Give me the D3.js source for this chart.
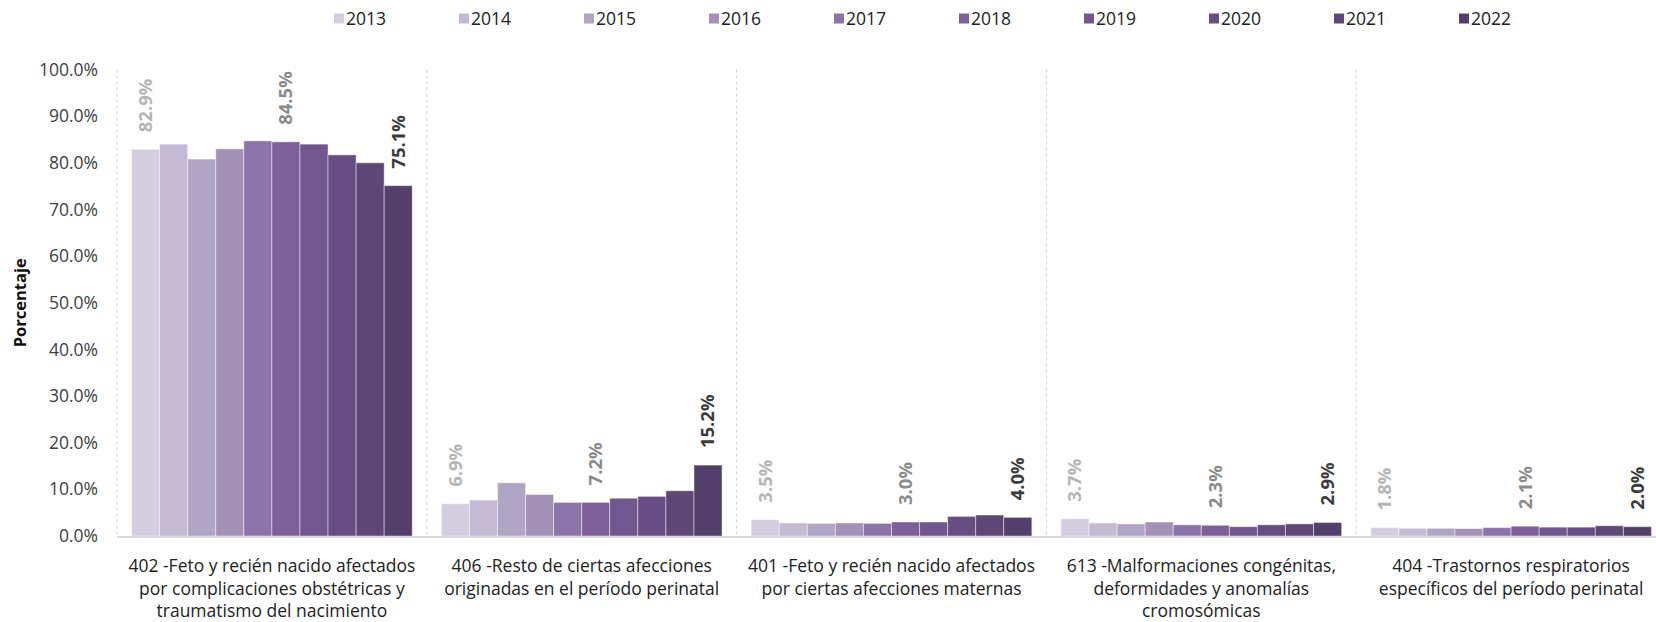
<!DOCTYPE html>
<html><head><meta charset="utf-8">
<script src="https://cdn.jsdelivr.net/npm/d3@7"></script>
<style>
html,body{margin:0;padding:0;background:#fff;overflow:hidden}
svg{display:block;font-family:"Open Sans","Noto Sans",sans-serif}
</style></head>
<body><svg id="chart" width="1656" height="622"></svg>
<script>
const years = ["2013","2014","2015","2016","2017","2018","2019","2020","2021","2022"];
const categories = ["402","406","401","613","404"];
const categoryLines = [
  ["402 -Feto y recién nacido afectados","por complicaciones obstétricas y","traumatismo del nacimiento"],
  ["406 -Resto de ciertas afecciones","originadas en el período perinatal"],
  ["401 -Feto y recién nacido afectados","por ciertas afecciones maternas"],
  ["613 -Malformaciones congénitas,","deformidades y anomalías","cromosómicas"],
  ["404 -Trastornos respiratorios","específicos del período perinatal"]
];
const values402 = [82.9,84.0,80.8,83.0,84.7,84.5,84.0,81.7,80.0,75.1];
const values406 = [6.9,7.7,11.4,8.9,7.2,7.2,8.1,8.5,9.7,15.2];
const values401 = [3.5,2.8,2.7,2.8,2.7,3.0,3.0,4.2,4.5,4.0];
const values613 = [3.7,2.8,2.6,3.0,2.4,2.3,2.0,2.4,2.6,2.9];
const values404 = [1.8,1.65,1.65,1.6,1.8,2.1,1.9,1.9,2.2,2.0];
const seriesValues = [values402, values406, values401, values613, values404];
const yearColors = ["#d4cde0","#c4bad3","#b1a5c5","#a391b7","#8c74ab","#7e5f9a","#715690","#684d85","#5e4677","#533e6c"];
const yTicks = [0,10,20,30,40,50,60,70,80,90,100];
const labeledYears = ["2013","2018","2022"];
const labelColors = ["#b5b5b5","#8a8a8a","#3a3a3a"];

const svg = d3.select("#chart");
const pLeft = 117, pRight = 1666, pTop = 69.5, pBottom = 536;

const x0 = d3.scaleBand().domain(categories).range([pLeft, pRight]).paddingInner(0.094).paddingOuter(0.047);
const x1 = d3.scaleBand().domain(years).range([0, x0.bandwidth()]).padding(0);
const y = d3.scaleLinear().domain([0,100]).range([pBottom, pTop]);
const color = d3.scaleOrdinal().domain(years).range(yearColors);
const step = x0.step();

// separators
svg.append("g").selectAll("line").data(categories).join("line")
  .attr("x1", (d,i)=> pLeft + i*step).attr("x2", (d,i)=> pLeft + i*step)
  .attr("y1", y(100)).attr("y2", pBottom)
  .attr("stroke", "#d0d0d0").attr("stroke-width", 1).attr("stroke-dasharray", "3,3");

// y axis
const yAxis = svg.append("g").attr("transform", `translate(${pLeft},0)`)
  .call(d3.axisLeft(y).tickValues(yTicks).tickFormat(d => d3.format(".1f")(d) + "%").tickSize(0).tickPadding(19));
yAxis.select(".domain").remove();
yAxis.selectAll("text").attr("font-size", 17.5).attr("fill", "#404040").attr("font-family", "'Open Sans','Noto Sans',sans-serif");

// bars
const groups = svg.append("g").selectAll("g").data(categories).join("g")
  .attr("transform", d => `translate(${x0(d)},0)`);
groups.selectAll("rect").data((d,i) => years.map((yr,j) => ({yr, v: seriesValues[i][j]}))).join("rect")
  .attr("x", d => x1(d.yr)).attr("width", x1.bandwidth())
  .attr("y", d => y(d.v)).attr("height", d => pBottom - y(d.v))
  .attr("fill", d => color(d.yr))
  .attr("stroke", "rgba(255,255,255,0.45)").attr("stroke-width", 1);

// labels
groups.selectAll("text.lbl").data((d,i) => years.map((yr,j) => ({yr, v: seriesValues[i][j]})).filter(d => labeledYears.includes(d.yr))).join("text")
  .attr("class","lbl")
  .attr("transform", d => `translate(${x1(d.yr) + x1.bandwidth()/2},${y(d.v) - 17}) rotate(-90)`)
  .attr("dy", "0.35em")
  .attr("text-anchor", "start")
  .attr("font-size", 18.5).attr("font-weight", "bold")
  .attr("fill", d => labelColors[labeledYears.indexOf(d.yr)])
  .text(d => d3.format(".1f")(d.v) + "%");

// baseline
svg.append("line").attr("x1", pLeft).attr("x2", pRight).attr("y1", pBottom + 1).attr("y2", pBottom + 1)
  .attr("stroke", "#d9d9d9").attr("stroke-width", 2);

// category labels
svg.append("g").selectAll("text").data(categories).join("text")
  .attr("x", d => x0(d) + x0.bandwidth()/2)
  .attr("y", 572)
  .attr("text-anchor", "middle").attr("font-size", 17.5).attr("fill", "#222")
  .each(function(d,i){
    d3.select(this).selectAll("tspan").data(categoryLines[i]).join("tspan")
      .attr("x", x0(d) + x0.bandwidth()/2)
      .attr("dy", (t,k) => k === 0 ? 0 : 22.5)
      .text(t => t);
  });

// y title
svg.append("text").attr("transform", `translate(26,${(pTop+pBottom)/2}) rotate(-90)`)
  .attr("text-anchor", "middle").attr("font-size", 16.5).attr("font-weight", "bold").attr("fill", "#111")
  .text("Porcentaje");

// legend
const lg = svg.append("g").selectAll("g").data(years).join("g")
  .attr("transform", (d,i) => `translate(${334 + i*125},19)`);
lg.append("rect").attr("x", 0).attr("y", -5.5).attr("width", 10).attr("height", 10).attr("fill", d => color(d));
lg.append("text").attr("x", 12).attr("y", 0).attr("dy", "0.35em").attr("font-size", 17.5).attr("fill", "#222").text(d => d);
</script></body></html>
